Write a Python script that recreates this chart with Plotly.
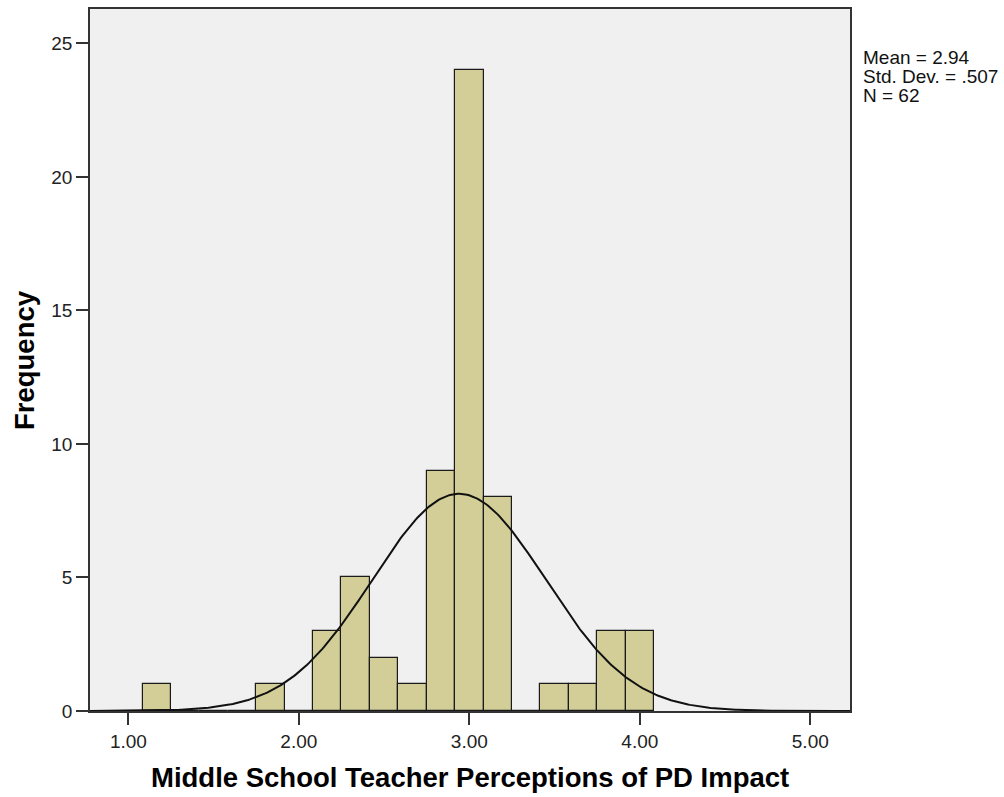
import numpy as np
import plotly.graph_objects as go

# ---- data ----
bin_centers = [1.167, 1.333, 1.500, 1.667, 1.833, 2.000, 2.167, 2.333, 2.500,
               2.667, 2.833, 3.000, 3.167, 3.333, 3.500, 3.667, 3.833, 4.000]
frequencies = [1, 0, 0, 0, 1, 0, 3, 5, 2, 1, 9, 24, 8, 0, 1, 1, 3, 3]
bin_width = 0.1667
x_tick_values = [1, 2, 3, 4, 5]
x_tick_labels = ["1.00", "2.00", "3.00", "4.00", "5.00"]
y_tick_values = [0, 5, 10, 15, 20, 25]
stat_mean = 2.94
stat_sd = 0.507
stat_n = 62
stat_lines = ["Mean = 2.94", "Std. Dev. = .507", "N = 62"]
x_title = "Middle School Teacher Perceptions of PD Impact"
y_title = "Frequency"

x_range = [0.775, 5.233]
y_range = [0, 26.29]

# fitted normal curve (as drawn by SPSS from the stated mean, sd and N)
curve_x = np.linspace(x_range[0], x_range[1], 400)
curve_y = stat_n * bin_width / (stat_sd * np.sqrt(2 * np.pi)) * np.exp(
    -0.5 * ((curve_x - stat_mean) / stat_sd) ** 2)

FONT = "Liberation Sans, Arial, sans-serif"

fig = go.Figure()
fig.add_trace(go.Bar(
    x=bin_centers, y=frequencies, width=bin_width,
    marker=dict(color="#D3CE97", line=dict(color="#1a1a1a", width=1.2)),
    showlegend=False, hoverinfo="x+y",
))
fig.add_trace(go.Scatter(
    x=curve_x, y=curve_y, mode="lines",
    line=dict(color="#111111", width=2),
    showlegend=False, hoverinfo="skip",
))

annotations = [
    dict(text=x_title, xref="paper", yref="paper", x=0.5, y=-0.0947,
         xanchor="center", yanchor="middle", showarrow=False,
         font=dict(family=FONT, size=27.5, color="#000000", weight="bold")),
    dict(text=y_title, xref="paper", yref="paper", x=-0.0868, y=0.5,
         xanchor="center", yanchor="middle", textangle=-90, showarrow=False,
         font=dict(family=FONT, size=27.5, color="#000000", weight="bold")),
]
line_y_px = [58, 77, 96]
for txt, py in zip(stat_lines, line_y_px):
    annotations.append(dict(
        text=txt, xref="paper", yref="paper",
        x=(861 - 90) / 760, y=(711.5 - py) / 702.5,
        xanchor="left", yanchor="middle", showarrow=False,
        font=dict(family=FONT, size=19, color="#111111")))

fig.update_layout(
    width=1004, height=797,
    margin=dict(l=90, r=154, t=9, b=86, autoexpand=False),
    paper_bgcolor="#FFFFFF", plot_bgcolor="#F0F0F0",
    bargap=0, annotations=annotations,
    font=dict(family=FONT, color="#222222"),
)
fig.update_xaxes(
    range=x_range, tickvals=x_tick_values, ticktext=x_tick_labels,
    ticks="outside", ticklen=12, tickwidth=1.5, tickcolor="#333333",
    showline=True, linecolor="#333333", linewidth=1.5, mirror=True,
    showgrid=False, zeroline=False,
    tickfont=dict(family=FONT, size=19, color="#222222"),
)
fig.update_yaxes(
    range=y_range, tickvals=y_tick_values,
    ticks="outside", ticklen=12, tickwidth=1.5, tickcolor="#333333",
    showline=True, linecolor="#333333", linewidth=1.5, mirror=True,
    showgrid=False, zeroline=False,
    tickfont=dict(family=FONT, size=19, color="#222222"),
)

fig.write_html(
    "out.html",
    config={"displayModeBar": False},
    post_script="document.body.style.margin='0';document.body.style.overflow='hidden';",
)
